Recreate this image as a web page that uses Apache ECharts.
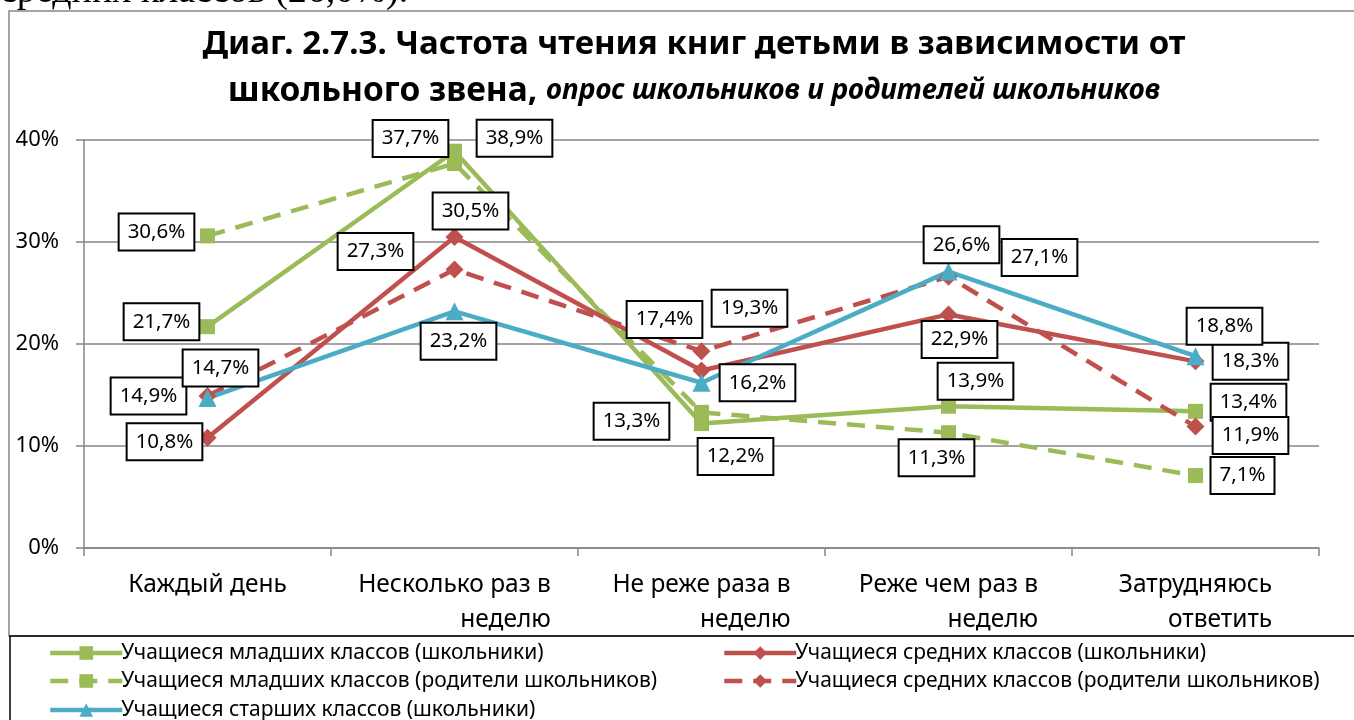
<!DOCTYPE html>
<html>
<head>
<meta charset="utf-8">
<script src="https://cdn.jsdelivr.net/npm/echarts@6/dist/echarts.min.js"></script>
<style>
  html, body { margin: 0; padding: 0; background: #fff; }
  #main { width: 1354px; height: 720px; }
</style>
</head>
<body>
<div id="main"></div>
<script>
  // категории по оси X
  var categories = ['Каждый день', 'Несколько раз в\nнеделю', 'Не реже раза в\nнеделю', 'Реже чем раз в\nнеделю', 'Затрудняюсь\nответить'];

  var yTicks = [0, 10, 20, 30, 40];

  // значения, %
  var juniorPupils  = [21.7, 38.9, 12.2, 13.9, 13.4];
  var juniorParents = [30.6, 37.7, 13.3, 11.3, 7.1];
  var middlePupils  = [10.8, 30.5, 17.4, 22.9, 18.3];
  var middleParents = [14.9, 27.3, 19.3, 26.6, 11.9];
  var seniorPupils  = [14.7, 23.2, 16.2, 27.1, 18.8];

  var names = [
    'Учащиеся младших классов (школьники)',
    'Учащиеся младших классов (родители школьников)',
    'Учащиеся средних классов (школьники)',
    'Учащиеся средних классов (родители школьников)',
    'Учащиеся старших классов (школьники)'
  ];

  // сдвиг подписей относительно точки
  var offJuniorPupils  = [[-46, -5], [60, -13], [34, 33], [27, -25], [53, -9]];
  var offJuniorParents = [[-51, -4], [-44, -25], [-70, 9], [-12, 25], [47, 0]];
  var offMiddlePupils  = [[-43, 4], [16, -26], [-37, -51], [11, 25], [55, 0]];
  var offMiddleParents = [[-59, 0], [-79, -18], [48, -43], [13, -32], [55, 9]];
  var offSeniorPupils  = [[13, -30], [4, 30], [56, 0], [91, -14], [29, -30]];

  var GREEN = '#9BBB59', RED = '#C0504D', BLUE = '#4BACC6';
  var FONT = 'Noto Sans';

  function fmt(v) {
    return v.toFixed(1).replace('.', ',') + '%';
  }

  function makeSeries(name, values, offs, color, symbol, size, dashed) {
    return {
      name: name,
      type: 'line',
      symbol: symbol,
      symbolSize: size,
      itemStyle: { color: color },
      lineStyle: { color: color, width: 4.5, type: dashed ? [18, 11] : 'solid' },
      label: {
        show: true,
        position: 'inside',
        formatter: function (p) { return fmt(p.value); },
        fontFamily: FONT,
        fontSize: 20.5,
        color: '#000',
        backgroundColor: '#fff',
        borderColor: '#000',
        borderWidth: 2,
        padding: [6, 8, 5, 8],
        lineHeight: 24
      },
      data: values.map(function (v, i) {
        return { value: v, label: { offset: offs[i] } };
      }),
      z: 3
    };
  }

  // одна легенда на каждый пункт, чтобы держать колонки
  function legendItem(name, left, top) {
    return {
      left: left, top: top,
      itemWidth: 72, itemHeight: 17,
      data: [name],
      lineStyle: { width: 4.5 },
      textStyle: { fontFamily: FONT, fontSize: 21, lineHeight: 22, color: '#000', padding: [0, 0, 0, -6] }
    };
  }

  var chart = echarts.init(document.getElementById('main'));
  chart.setOption({
    animation: false,
    backgroundColor: '#fff',
    textStyle: { fontFamily: FONT },
    grid: { left: 84, right: 35, top: 140, bottom: 172 },
    xAxis: {
      type: 'category',
      data: categories,
      boundaryGap: true,
      axisLine: { lineStyle: { color: '#868686', width: 1.5 } },
      axisTick: { show: true, length: 8, lineStyle: { color: '#868686', width: 1.5 } },
      axisLabel: {
        interval: 0,
        margin: 20,
        color: '#000',
        formatter: function (v) {
          return v.split('\n').map(function (l) { return '{r|' + l + '}'; }).join('\n');
        },
        rich: {
          r: { align: 'right', fontFamily: FONT, fontSize: 24.5, lineHeight: 35, color: '#000' }
        }
      }
    },
    yAxis: {
      type: 'value',
      min: yTicks[0],
      max: yTicks[yTicks.length - 1],
      interval: 10,
      axisLine: { show: true, lineStyle: { color: '#868686', width: 1.5 } },
      axisTick: { show: true, length: 8, lineStyle: { color: '#868686', width: 1.5 } },
      axisLabel: { formatter: '{value}%', fontFamily: FONT, fontSize: 22, color: '#000', margin: 25 },
      splitLine: { lineStyle: { color: '#868686', width: 1.5 } }
    },
    legend: [
      legendItem(names[0], 43, 637),
      legendItem(names[1], 43, 665),
      legendItem(names[4], 43, 694),
      legendItem(names[2], 717, 637),
      legendItem(names[3], 717, 665)
    ],
    graphic: [
      {
        type: 'text', x: 0, y: -8, silent: true,
        style: { text: 'средних классов (26,0%).', font: '38px "Liberation Serif"', fill: '#000', verticalAlign: 'middle' }
      },
      {
        type: 'rect', silent: true, z: -1,
        shape: { x: 9, y: 11, width: 1360, height: 625 },
        style: { fill: null, stroke: '#868686', lineWidth: 1.5 }
      },
      {
        type: 'rect', silent: true,
        shape: { x: 10, y: 636, width: 1360, height: 100 },
        style: { fill: null, stroke: '#000', lineWidth: 1.5 }
      },
      {
        type: 'text', x: 694, y: 45, silent: true,
        style: {
          text: 'Диаг. 2.7.3. Частота чтения книг детьми в зависимости от',
          font: 'bold 33px "Noto Sans"', fill: '#000', align: 'center', verticalAlign: 'middle'
        }
      },
      {
        type: 'text', x: 694, y: 91, silent: true,
        style: {
          text: '{b|школьного звена, }{i|опрос школьников и родителей школьников}',
          align: 'center', verticalAlign: 'middle',
          rich: {
            b: { font: 'bold 33.5px "Noto Sans"', fill: '#000' },
            i: { font: 'italic bold 28px "Noto Sans"', fill: '#000' }
          }
        }
      }
    ],
    series: [
      makeSeries(names[0], juniorPupils, offJuniorPupils, GREEN, 'rect', 15, false),
      makeSeries(names[1], juniorParents, offJuniorParents, GREEN, 'rect', 15, true),
      makeSeries(names[2], middlePupils, offMiddlePupils, RED, 'diamond', 18, false),
      makeSeries(names[3], middleParents, offMiddleParents, RED, 'diamond', 18, true),
      makeSeries(names[4], seniorPupils, offSeniorPupils, BLUE, 'triangle', 18, false)
    ]
  });
</script>
</body>
</html>
